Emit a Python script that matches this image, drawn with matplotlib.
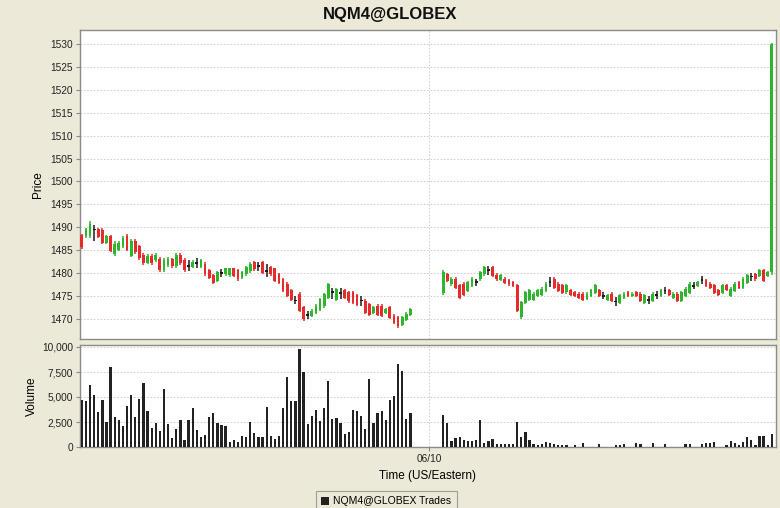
import matplotlib
matplotlib.use("Agg")
import matplotlib.pyplot as plt
from matplotlib.patches import Patch
from matplotlib.ticker import FuncFormatter, MultipleLocator
import numpy as np

plt.rcParams['font.family'] = ['Liberation Sans', 'DejaVu Sans']

TITLE = "NQM4@GLOBEX"
LEGEND_LABEL = "NQM4@GLOBEX Trades"
DAY_TICK = "06/10"

# Session 1 (before 06/10) - OHLC per bar
s1_open = [1488.2, 1488.0, 1488.0, 1489.5, 1489.6, 1489.5, 1486.6, 1488.0, 1484.2, 1485.0,
           1485.8, 1488.0, 1483.8, 1487.0, 1485.8, 1484.0, 1482.2, 1483.8, 1482.8, 1483.1,
           1480.6, 1481.7, 1483.0, 1481.5, 1484.0, 1482.9, 1481.5, 1481.3, 1482.2, 1481.4,
           1482.0, 1480.6, 1479.5, 1478.3, 1480.0, 1479.7, 1479.5, 1481.0, 1480.6, 1479.0,
           1479.7, 1480.4, 1482.4, 1481.5, 1482.4, 1480.5, 1481.3, 1481.0, 1479.8, 1478.7,
           1477.7, 1476.2, 1474.0, 1475.5, 1472.5, 1470.8, 1470.6, 1471.3, 1472.0, 1472.7,
           1474.6, 1475.8, 1474.2, 1475.6, 1476.2, 1475.8, 1475.8, 1475.1, 1474.0, 1474.0,
           1473.2, 1471.3, 1472.9, 1472.9, 1471.3, 1472.5, 1470.7, 1470.3, 1468.7, 1469.8,
           1470.9]
s1_high = [1488.5, 1489.9, 1491.4, 1490.5, 1489.9, 1489.8, 1488.3, 1488.3, 1486.9, 1486.9,
           1488.0, 1488.5, 1487.4, 1487.4, 1486.1, 1484.3, 1484.1, 1484.1, 1484.3, 1483.4,
           1483.2, 1483.4, 1483.2, 1484.3, 1484.3, 1483.2, 1482.8, 1482.8, 1483.3, 1483.1,
           1482.3, 1480.9, 1479.8, 1480.5, 1480.9, 1481.2, 1481.2, 1481.2, 1480.9, 1480.5,
           1481.6, 1482.3, 1482.7, 1482.3, 1482.7, 1482.0, 1481.6, 1481.2, 1480.1, 1479.0,
           1478.0, 1476.5, 1475.0, 1475.8, 1472.8, 1471.7, 1472.1, 1473.2, 1474.6, 1475.7,
           1477.9, 1476.8, 1476.8, 1476.8, 1476.5, 1476.1, 1476.1, 1475.4, 1475.0, 1474.3,
           1473.5, 1472.8, 1473.2, 1473.2, 1472.4, 1472.8, 1471.0, 1470.6, 1470.6, 1471.4,
           1472.4]
s1_low = [1485.3, 1487.7, 1487.7, 1486.9, 1487.6, 1486.3, 1486.3, 1484.5, 1483.8, 1484.7,
          1485.4, 1484.7, 1483.4, 1484.1, 1482.8, 1481.8, 1481.9, 1481.8, 1482.5, 1480.3,
          1480.3, 1481.4, 1481.2, 1481.2, 1481.8, 1480.3, 1480.4, 1481.1, 1481.1, 1481.1,
          1479.4, 1478.7, 1477.6, 1478.0, 1479.2, 1479.4, 1479.2, 1479.1, 1478.3, 1478.7,
          1479.4, 1480.1, 1480.5, 1480.5, 1479.8, 1479.2, 1479.4, 1478.0, 1477.6, 1475.8,
          1474.7, 1473.9, 1473.2, 1471.4, 1469.6, 1469.9, 1470.3, 1471.0, 1471.7, 1472.4,
          1474.3, 1474.3, 1473.9, 1474.3, 1474.3, 1473.5, 1473.2, 1472.8, 1472.8, 1471.0,
          1470.6, 1471.0, 1470.6, 1470.3, 1471.0, 1469.9, 1468.8, 1468.1, 1468.4, 1469.5,
          1470.6]
s1_close = [1485.6, 1489.6, 1490.6, 1489.5, 1487.8, 1486.6, 1488.0, 1484.8, 1486.4, 1486.6,
            1487.7, 1485.0, 1487.0, 1484.5, 1483.2, 1482.1, 1483.8, 1482.1, 1484.0, 1480.6,
            1482.9, 1483.1, 1481.5, 1484.0, 1482.1, 1480.6, 1481.5, 1482.5, 1482.2, 1482.8,
            1479.7, 1479.0, 1477.9, 1480.2, 1480.0, 1481.0, 1481.0, 1479.4, 1478.6, 1480.2,
            1481.3, 1482.0, 1480.8, 1481.5, 1480.1, 1480.5, 1479.7, 1478.3, 1477.9, 1476.1,
            1475.0, 1474.2, 1474.0, 1471.7, 1469.9, 1470.8, 1471.8, 1472.9, 1474.3, 1475.4,
            1477.6, 1475.8, 1476.5, 1475.6, 1474.6, 1473.8, 1473.5, 1473.1, 1474.0, 1471.3,
            1470.9, 1472.5, 1470.9, 1470.6, 1472.1, 1470.2, 1469.1, 1468.4, 1470.3, 1471.1,
            1472.1]
s1_volume = [4700, 4600, 6200, 5200, 3500, 4700, 2500, 8000, 3000, 2700,
             2100, 4100, 5200, 3000, 4800, 6400, 3600, 1900, 2400, 1600,
             5800, 2300, 900, 1800, 2700, 700, 2700, 3900, 1700, 1000,
             1200, 3000, 3400, 2400, 2200, 2100, 500, 700, 500, 1100,
             1000, 2500, 1400, 1000, 1000, 4000, 1100, 800, 1100, 3900,
             7000, 4600, 4600, 9800, 7500, 2300, 3100, 3700, 2600, 3900,
             6600, 2800, 2900, 2400, 1300, 1500, 3700, 3600, 3100, 1800,
             6800, 2400, 3400, 3600, 2700, 4700, 5100, 8300, 7600, 2800,
             3400]

# Session 2 (06/10)
s2_open = [1475.6, 1479.8, 1477.5, 1478.8, 1477.3, 1477.7, 1476.1, 1477.2, 1478.0, 1478.6,
           1479.7, 1480.6, 1481.3, 1479.6, 1478.5, 1478.8, 1478.4, 1478.0, 1477.3, 1470.3,
           1473.5, 1474.2, 1474.2, 1475.0, 1475.3, 1476.1, 1478.0, 1478.8, 1477.7, 1477.3,
           1475.8, 1476.2, 1475.8, 1475.5, 1475.5, 1474.4, 1475.0, 1475.7, 1476.2, 1475.0,
           1474.2, 1475.5, 1473.8, 1473.5, 1474.6, 1475.8, 1475.0, 1475.8, 1475.5, 1473.5,
           1474.1, 1473.9, 1475.2, 1475.0, 1476.2, 1476.2, 1474.6, 1475.5, 1473.9, 1475.0,
           1475.7, 1477.2, 1477.2, 1478.5, 1478.4, 1477.7, 1477.3, 1476.2, 1475.7, 1477.3,
           1475.0, 1476.1, 1478.0, 1476.8, 1477.9, 1479.2, 1479.8, 1479.4, 1480.6, 1479.4,
           1480.2]
s2_high = [1480.7, 1480.1, 1479.1, 1479.1, 1477.6, 1478.0, 1478.3, 1479.1, 1478.7, 1480.5,
           1481.6, 1481.6, 1481.6, 1479.9, 1479.8, 1479.1, 1478.7, 1478.3, 1477.6, 1474.0,
           1476.1, 1476.5, 1475.8, 1476.5, 1476.9, 1478.0, 1479.1, 1479.1, 1478.0, 1477.6,
           1477.6, 1476.5, 1476.1, 1475.8, 1475.8, 1475.8, 1476.5, 1477.6, 1476.5, 1475.8,
           1475.4, 1475.8, 1474.7, 1475.4, 1475.8, 1476.1, 1475.8, 1476.1, 1475.8, 1475.4,
           1475.0, 1475.8, 1476.1, 1476.5, 1476.9, 1476.5, 1475.8, 1475.8, 1476.1, 1476.9,
           1478.0, 1478.0, 1478.3, 1479.4, 1478.7, 1478.0, 1477.6, 1476.5, 1477.6, 1477.6,
           1476.9, 1478.0, 1478.3, 1479.1, 1479.8, 1480.1, 1480.1, 1480.9, 1480.9, 1480.5,
           1530.2]
s2_low = [1475.3, 1478.0, 1477.2, 1476.5, 1474.3, 1475.0, 1475.8, 1476.9, 1477.2, 1478.3,
          1479.4, 1479.6, 1479.1, 1478.3, 1478.2, 1477.6, 1477.2, 1476.9, 1471.4, 1470.0,
          1473.2, 1473.9, 1473.9, 1474.7, 1475.0, 1475.8, 1476.9, 1476.5, 1475.8, 1475.4,
          1475.5, 1475.0, 1474.7, 1474.3, 1473.9, 1474.1, 1474.7, 1475.4, 1474.7, 1474.3,
          1473.9, 1473.6, 1472.8, 1473.2, 1474.3, 1474.7, 1474.7, 1474.7, 1473.6, 1473.2,
          1473.2, 1473.6, 1474.3, 1474.7, 1475.4, 1475.0, 1474.3, 1473.6, 1473.6, 1474.7,
          1475.4, 1476.5, 1476.9, 1477.6, 1476.9, 1476.5, 1475.4, 1475.0, 1475.4, 1476.1,
          1474.7, 1475.8, 1476.5, 1476.5, 1477.6, 1478.3, 1478.3, 1479.1, 1478.0, 1479.1,
          1479.6]
s2_close = [1480.3, 1478.3, 1478.8, 1476.8, 1474.6, 1475.3, 1478.0, 1478.8, 1478.0, 1480.2,
            1481.3, 1480.6, 1479.4, 1478.6, 1479.5, 1477.9, 1477.5, 1477.2, 1471.7, 1473.7,
            1475.8, 1476.2, 1475.5, 1476.2, 1476.6, 1477.7, 1478.0, 1476.8, 1476.1, 1475.7,
            1477.3, 1475.3, 1475.0, 1474.6, 1474.2, 1475.5, 1476.2, 1477.3, 1475.0, 1475.0,
            1475.1, 1473.9, 1473.8, 1475.1, 1475.5, 1475.0, 1475.5, 1475.0, 1473.9, 1475.1,
            1474.1, 1475.5, 1475.2, 1476.2, 1476.2, 1475.3, 1475.5, 1473.9, 1475.8, 1476.6,
            1477.7, 1477.2, 1478.0, 1478.5, 1477.2, 1476.8, 1475.7, 1475.3, 1477.3, 1476.4,
            1476.6, 1477.7, 1476.8, 1478.8, 1479.5, 1479.2, 1478.6, 1480.6, 1478.3, 1480.2,
            1530.0]
s2_volume = [3200, 2430, 600, 930, 1000, 700, 600, 630, 700, 2700,
             430, 600, 800, 270, 270, 270, 270, 270, 2530, 1000,
             1500, 700, 270, 200, 270, 470, 430, 270, 200, 200,
             200, 0, 200, 0, 370, 0, 0, 0, 270, 0,
             0, 0, 200, 200, 270, 0, 0, 370, 270, 0,
             0, 370, 0, 0, 270, 0, 0, 0, 0, 270,
             270, 0, 0, 270, 370, 370, 470, 0, 0, 200,
             600, 370, 200, 470, 1000, 700, 200, 1130, 1130, 200,
             1300]

S2_START = 88       # bar slot where the second session begins
DAY_TICK_POS = 84.5

BG = '#ECE9D8'
UP = '#2DB52D'
DOWN = '#E52B2B'
FLAT = '#1A1A1A'
GRID = '#C8C8C8'
FRAME = '#8A8A8A'


def draw_candles(ax, xs, o, h, l, c):
    o, h, l, c = map(np.array, (o, h, l, c))
    cols = np.where(c > o, UP, np.where(c < o, DOWN, FLAT))
    ax.vlines(xs, l, h, colors=cols, lw=1.1, zorder=3)
    body = np.maximum(np.abs(c - o), 0.35)
    bottom = np.minimum(o, c) - np.where(c == o, 0.175, 0)
    ax.bar(xs, body, bottom=bottom, width=0.68, color=cols, linewidth=0, zorder=3)


def style_axis(ax):
    ax.set_facecolor('white')
    for s in ax.spines.values():
        s.set_color(FRAME)
        s.set_linewidth(1.0)
    ax.grid(True, color=GRID, ls=(0, (2, 2)), lw=0.6)
    ax.set_axisbelow(True)
    ax.tick_params(axis='y', length=3, width=0.8, color=FRAME, labelsize=7.3,
                   labelcolor='#222222', pad=2)
    ax.tick_params(axis='x', length=3, width=0.8, color=FRAME, labelsize=7.3,
                   labelcolor='#222222', pad=2)


fig = plt.figure(figsize=(7.8, 5.08), dpi=100, facecolor=BG)
ax1 = fig.add_axes([80 / 780, 1 - 339 / 508, 695.5 / 780, 309 / 508])
ax2 = fig.add_axes([80 / 780, 1 - 447 / 508, 695.5 / 780, 102 / 508])

x1 = np.arange(len(s1_open))
x2 = S2_START + np.arange(len(s2_open))

# price panel
style_axis(ax1)
draw_candles(ax1, x1, s1_open, s1_high, s1_low, s1_close)
draw_candles(ax1, x2, s2_open, s2_high, s2_low, s2_close)
ax1.set_ylim(1465.6, 1533.05)
ax1.yaxis.set_major_locator(MultipleLocator(5))
ax1.set_xlim(-0.45, 168.9)
ax1.set_xticks([DAY_TICK_POS])
ax1.tick_params(axis='x', length=0, labelbottom=False)
ax1.set_ylabel("Price", fontsize=8.5)
ax1.yaxis.set_label_coords(-0.052, 0.5)

# volume panel
style_axis(ax2)
ax2.bar(x1, s1_volume, width=0.55, color='#222222', linewidth=0, zorder=3)
ax2.bar(x2, s2_volume, width=0.55, color='#222222', linewidth=0, zorder=3)
ax2.set_ylim(0, 10200)
ax2.set_yticks([0, 2500, 5000, 7500, 10000])
ax2.yaxis.set_major_formatter(FuncFormatter(lambda v, p: f"{int(v):,}"))
ax2.set_xlim(-0.45, 168.9)
ax2.set_xticks([DAY_TICK_POS])
ax2.set_xticklabels([DAY_TICK])
ax2.set_ylabel("Volume", fontsize=8.5)
ax2.yaxis.set_label_coords(-0.061, 0.5)
ax2.set_xlabel("Time (US/Eastern)", fontsize=8.5, labelpad=4)

fig.text(0.5, 1 - 14 / 508, TITLE, ha='center', va='center',
         fontsize=12, fontweight='bold', color='#111111')

leg = fig.legend(handles=[Patch(facecolor='#222222', edgecolor='none')],
                 labels=[LEGEND_LABEL], loc='upper center',
                 bbox_to_anchor=(0.495, 1 - 491 / 508), frameon=True, fancybox=False,
                 fontsize=7.5, handlelength=0.8, handleheight=0.8, handletextpad=0.4,
                 borderpad=0.5, borderaxespad=0)
leg.get_frame().set_edgecolor(FRAME)
leg.get_frame().set_facecolor(BG)
leg.get_frame().set_linewidth(0.8)

fig.savefig("out.png", dpi=100, facecolor=BG)
